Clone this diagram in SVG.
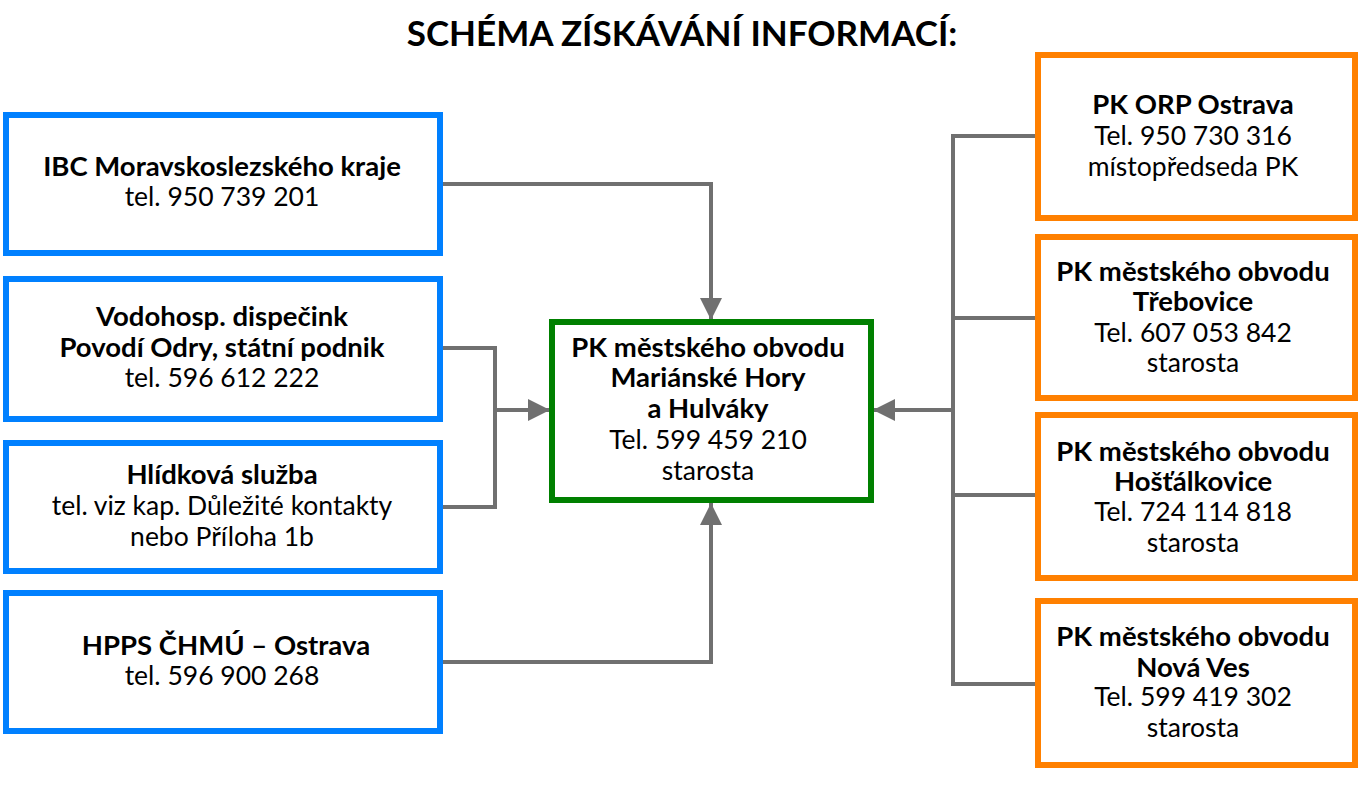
<svg xmlns="http://www.w3.org/2000/svg" width="1360" height="787" viewBox="0 0 1360 787">
<defs>
<style>
.box{fill:#fff;stroke-width:6}
.blue{stroke:#0080FF}
.green{stroke:#008000}
.orange{stroke:#FF8000}
text{font-family:Lato,"Noto Sans",sans-serif;font-size:26.5px;fill:#000;text-anchor:middle}
.b{font-weight:bold;font-size:27.5px}
.title{font-size:35px;font-weight:bold}
.con{fill:none;stroke:#707070;stroke-width:4}
</style>
<marker id="arr" viewBox="0 0 10 10" refX="10" refY="5" markerWidth="6" markerHeight="5.5" markerUnits="strokeWidth" orient="auto">
<path d="M0,0 L10,5 L0,10 z" fill="#707070"/>
</marker>
</defs>
<rect width="1360" height="787" fill="#fff"/>
<text class="title" x="682" y="46">SCHÉMA ZÍSKÁVÁNÍ INFORMACÍ:</text>

<g id="connectors">
<path class="con" d="M441,184 H711 V320" marker-end="url(#arr)"/>
<path class="con" d="M441,348 H495 V507 H441"/>
<path class="con" d="M495,410 H550" marker-end="url(#arr)"/>
<path class="con" d="M441,662 H711 V503" marker-end="url(#arr)"/>
<path class="con" d="M1038,136 H953 V684 H1038"/>
<path class="con" d="M953,318 H1038"/>
<path class="con" d="M953,495 H1038"/>
<path class="con" d="M953,410 H873" marker-end="url(#arr)"/>
</g>

<g id="ibc">
<rect class="box blue" x="6" y="115" width="434" height="138"/>
<text class="b" x="222" y="176">IBC Moravskoslezského kraje</text>
<text x="222" y="206">tel. 950 739 201</text>
</g>
<g id="vodohosp">
<rect class="box blue" x="6" y="279" width="434" height="140"/>
<text class="b" x="222" y="326">Vodohosp. dispečink</text>
<text class="b" x="222" y="357">Povodí Odry, státní podnik</text>
<text x="222" y="387">tel. 596 612 222</text>
</g>
<g id="hlidkova">
<rect class="box blue" x="6" y="443" width="434" height="128"/>
<text class="b" x="222" y="484">Hlídková služba</text>
<text x="222" y="515">tel. viz kap. Důležité kontakty</text>
<text x="222" y="546">nebo Příloha 1b</text>
</g>
<g id="hpps">
<rect class="box blue" x="6" y="593" width="434" height="138"/>
<text class="b" x="226" y="655">HPPS ČHMÚ – Ostrava</text>
<text x="222" y="685">tel. 596 900 268</text>
</g>

<g id="center">
<rect class="box green" x="552" y="322" width="319" height="178"/>
<text class="b" x="708" y="357">PK městského obvodu</text>
<text class="b" x="708" y="387">Mariánské Hory</text>
<text class="b" x="708" y="418">a Hulváky</text>
<text x="708" y="449">Tel. 599 459 210</text>
<text x="708" y="480">starosta</text>
</g>

<g id="orp">
<rect class="box orange" x="1038" y="55" width="317" height="163"/>
<text class="b" x="1193" y="114">PK ORP Ostrava</text>
<text x="1193" y="145">Tel. 950 730 316</text>
<text x="1193" y="176">místopředseda PK</text>
</g>
<g id="trebovice">
<rect class="box orange" x="1038" y="237" width="317" height="161"/>
<text class="b" x="1193" y="281">PK městského obvodu</text>
<text class="b" x="1193" y="311">Třebovice</text>
<text x="1193" y="342">Tel. 607 053 842</text>
<text x="1193" y="372">starosta</text>
</g>
<g id="hostalkovice">
<rect class="box orange" x="1038" y="415" width="317" height="163"/>
<text class="b" x="1193" y="461">PK městského obvodu</text>
<text class="b" x="1193" y="491">Hošťálkovice</text>
<text x="1193" y="521">Tel. 724 114 818</text>
<text x="1193" y="552">starosta</text>
</g>
<g id="novaves">
<rect class="box orange" x="1038" y="601" width="317" height="164"/>
<text class="b" x="1193" y="646">PK městského obvodu</text>
<text class="b" x="1193" y="677">Nová Ves</text>
<text x="1193" y="706">Tel. 599 419 302</text>
<text x="1193" y="737">starosta</text>
</g>
</svg>
